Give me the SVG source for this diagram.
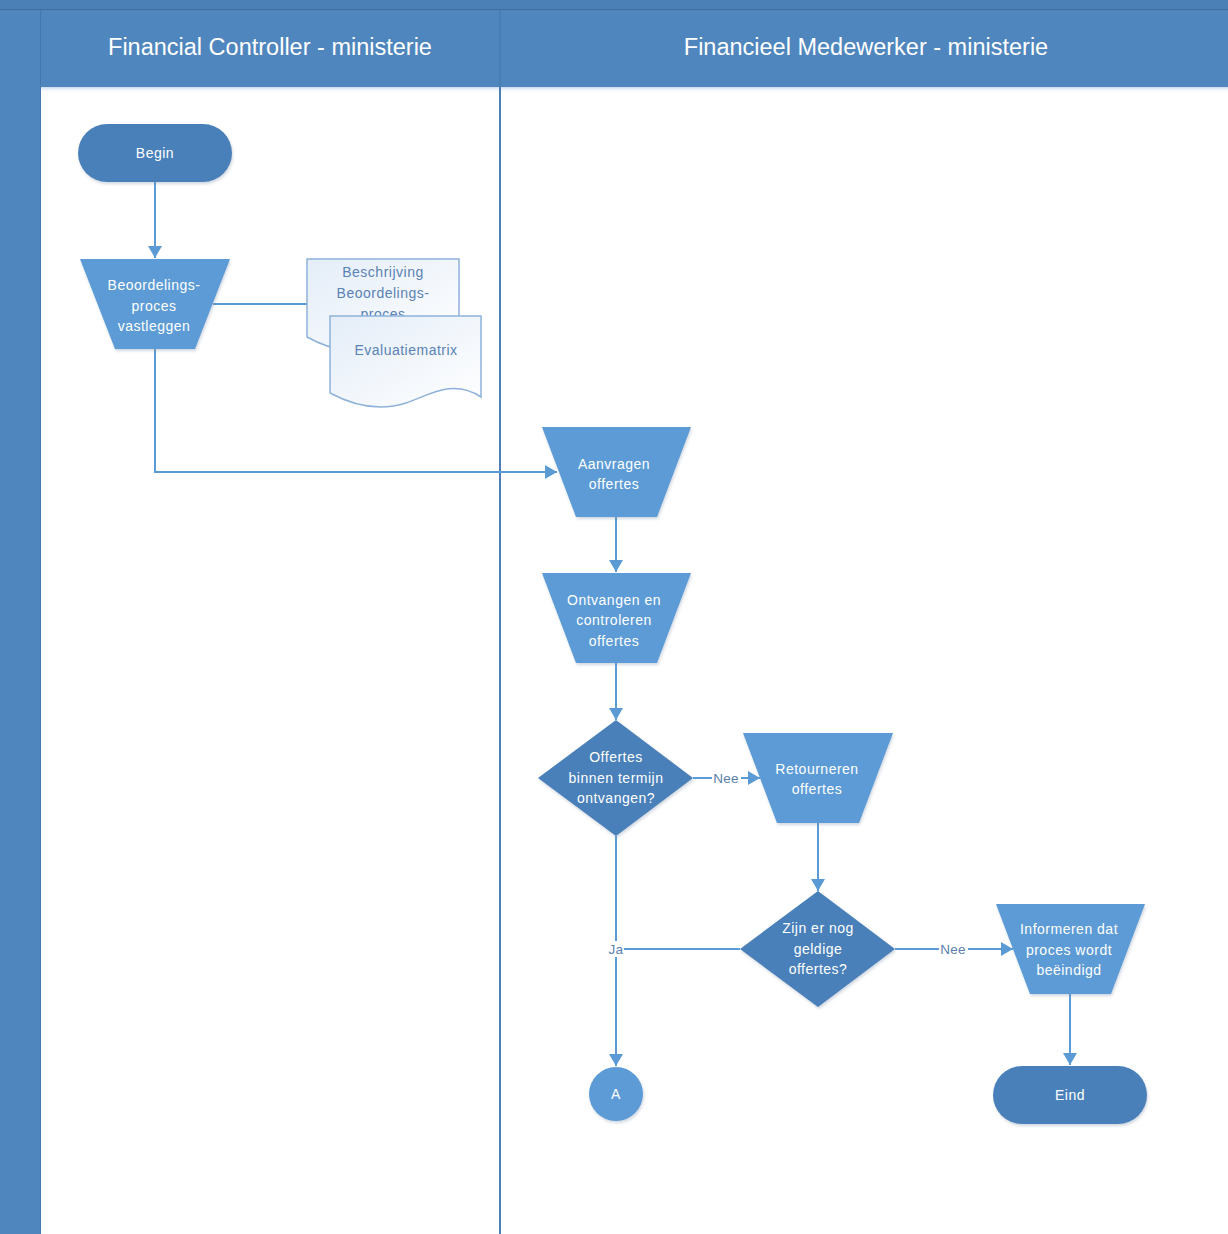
<svg xmlns="http://www.w3.org/2000/svg" width="1228" height="1234" viewBox="0 0 1228 1234">
<defs>
<style>
.lane{fill:#ffffff}
.hdr{font-family:"Liberation Sans","Open Sans",sans-serif;font-size:23.5px;fill:#ffffff;text-anchor:middle;dominant-baseline:central}
.t{font-family:"Liberation Sans","Open Sans",sans-serif;font-size:14px;fill:#ffffff;text-anchor:middle;dominant-baseline:central;letter-spacing:0.5px}
.dt{font-family:"Liberation Sans","Open Sans",sans-serif;font-size:14px;fill:#5a82b4;text-anchor:middle;dominant-baseline:central;letter-spacing:0.5px}
.lbl{font-family:"Liberation Sans","Open Sans",sans-serif;font-size:13.5px;fill:#5a7fae;text-anchor:middle;dominant-baseline:central;letter-spacing:0.3px}
.proc{fill:#5b9bd5}
.dark{fill:#4a80b9}
.doc{fill:url(#docg);stroke:#8fb2da;stroke-width:1.5}
.con{fill:none;stroke:#5b9bd5;stroke-width:2}
</style>
<linearGradient id="docg" x1="0" y1="0" x2="1" y2="1">
<stop offset="0" stop-color="#e4edf8"/>
<stop offset="1" stop-color="#ffffff"/>
</linearGradient>
<linearGradient id="hshadow" x1="0" y1="0" x2="0" y2="1">
<stop offset="0" stop-color="#c9dbee"/>
<stop offset="1" stop-color="#ffffff" stop-opacity="0"/>
</linearGradient>
<filter id="sh" x="-20%" y="-20%" width="140%" height="140%">
<feDropShadow dx="1" dy="2" stdDeviation="1.5" flood-color="#7a8fa8" flood-opacity="0.35"/>
</filter>
<marker id="arr" markerUnits="userSpaceOnUse" viewBox="0 0 12 14" markerWidth="12" markerHeight="14" refX="12" refY="7" orient="auto">
<path d="M0,0 L12,7 L0,14 Z" fill="#5b9bd5"/>
</marker>
</defs>

<g id="swimlanes">
<rect x="0" y="0" width="1228" height="1234" fill="#4f86bd"/>
<rect x="0" y="0" width="1228" height="9" fill="#4a80b6"/>
<line x1="0" y1="9.5" x2="1228" y2="9.5" stroke="#416f9f" stroke-width="1"/>
<rect class="lane" x="40" y="87" width="460" height="1147"/>
<rect class="lane" x="501" y="87" width="727" height="1147"/>
<rect x="40" y="87" width="1188" height="6" fill="url(#hshadow)"/>
<line x1="40.5" y1="10" x2="40.5" y2="1234" stroke="#4578ab" stroke-width="1"/>
<line x1="500" y1="10" x2="500" y2="1234" stroke="#4a7fb3" stroke-width="2"/>
<text class="hdr" x="270" y="47">Financial Controller - ministerie</text>
<text class="hdr" x="866" y="47">Financieel Medewerker - ministerie</text>
</g>

<g id="connectors">
<line class="con" x1="155" y1="182" x2="155" y2="258" marker-end="url(#arr)"/>
<line class="con" x1="213" y1="304" x2="307" y2="304"/>
<polyline class="con" points="155,349 155,472 557,472" marker-end="url(#arr)"/>
<line class="con" x1="616" y1="517" x2="616" y2="572" marker-end="url(#arr)"/>
<line class="con" x1="616" y1="663" x2="616" y2="720" marker-end="url(#arr)"/>
<line class="con" x1="693" y1="778" x2="760" y2="778" marker-end="url(#arr)"/>
<line class="con" x1="818" y1="823" x2="818" y2="891" marker-end="url(#arr)"/>
<line class="con" x1="616" y1="836" x2="616" y2="1066" marker-end="url(#arr)"/>
<line class="con" x1="740" y1="949" x2="616" y2="949"/>
<line class="con" x1="895" y1="949" x2="1013" y2="949" marker-end="url(#arr)"/>
<line class="con" x1="1070" y1="994" x2="1070" y2="1065" marker-end="url(#arr)"/>
<rect x="712" y="770" width="29" height="16" fill="#ffffff"/>
<text class="lbl" x="726" y="778">Nee</text>
<rect x="939" y="941" width="29" height="16" fill="#ffffff"/>
<text class="lbl" x="953" y="949">Nee</text>
<rect x="608" y="941" width="16" height="16" fill="#ffffff"/>
<text class="lbl" x="616" y="949">Ja</text>
</g>

<g id="begin">
<rect class="dark" x="78" y="124" width="154" height="58" rx="29" filter="url(#sh)"/>
<text class="t" x="155" y="153">Begin</text>
</g>

<g id="beoordelingsproces">
<polygon class="proc" points="80,259 230,259 195,349 115,349" filter="url(#sh)"/>
<text class="t" x="154" y="285">Beoordelings-</text>
<text class="t" x="154" y="306">proces</text>
<text class="t" x="154" y="326">vastleggen</text>
</g>

<g id="doc-beschrijving">
<path class="doc" d="M307,259 H459 V340 C433,323 408,343 388,349 C363,356 332,351 307,337 Z"/>
<text class="dt" x="383" y="272">Beschrijving</text>
<text class="dt" x="383" y="293">Beoordelings-</text>
<text class="dt" x="383" y="314">proces</text>
</g>

<g id="doc-evaluatiematrix">
<path class="doc" d="M330,316 H481 V397 C452,378 428,396 406,403 C381,411 356,407 330,393 Z"/>
<text class="dt" x="406" y="350">Evaluatiematrix</text>
</g>

<g id="aanvragen">
<polygon class="proc" points="542,427 691,427 657,517 576,517" filter="url(#sh)"/>
<text class="t" x="614" y="464">Aanvragen</text>
<text class="t" x="614" y="484">offertes</text>
</g>

<g id="ontvangen">
<polygon class="proc" points="542,573 691,573 657,663 576,663" filter="url(#sh)"/>
<text class="t" x="614" y="600">Ontvangen en</text>
<text class="t" x="614" y="620">controleren</text>
<text class="t" x="614" y="641">offertes</text>
</g>

<g id="beslissing-termijn">
<polygon class="dark" points="616,720 693,778 616,836 538,778" filter="url(#sh)"/>
<text class="t" x="616" y="757">Offertes</text>
<text class="t" x="616" y="778">binnen termijn</text>
<text class="t" x="616" y="798">ontvangen?</text>
</g>

<g id="retourneren">
<polygon class="proc" points="743,733 893,733 859,823 777,823" filter="url(#sh)"/>
<text class="t" x="817" y="769">Retourneren</text>
<text class="t" x="817" y="789">offertes</text>
</g>

<g id="beslissing-geldig">
<polygon class="dark" points="818,891 895,949 818,1007 740,949" filter="url(#sh)"/>
<text class="t" x="818" y="928">Zijn er nog</text>
<text class="t" x="818" y="949">geldige</text>
<text class="t" x="818" y="969">offertes?</text>
</g>

<g id="informeren">
<polygon class="proc" points="996,904 1145,904 1111,994 1030,994" filter="url(#sh)"/>
<text class="t" x="1069" y="929">Informeren dat</text>
<text class="t" x="1069" y="950">proces wordt</text>
<text class="t" x="1069" y="970">beëindigd</text>
</g>

<g id="connector-a">
<circle class="proc" cx="616" cy="1094" r="27" filter="url(#sh)"/>
<text class="t" x="616" y="1094">A</text>
</g>

<g id="eind">
<rect class="dark" x="993" y="1066" width="154" height="58" rx="29" filter="url(#sh)"/>
<text class="t" x="1070" y="1095">Eind</text>
</g>
</svg>
